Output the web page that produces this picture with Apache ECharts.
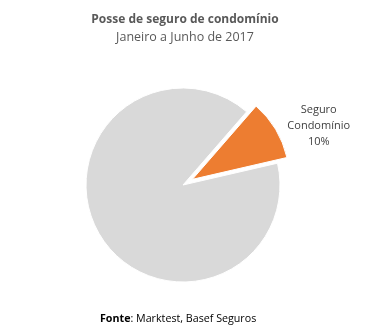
<!DOCTYPE html>
<html><head><meta charset="utf-8">
<script src="https://cdn.jsdelivr.net/npm/echarts@6/dist/echarts.min.js"></script>
<style>html,body{margin:0;padding:0;background:#fff}#c{width:370px;height:332px}</style>
</head><body><div id="c"></div>
<script>
const categories = ['Seguro\nCondomínio', 'Outros'];
const values = [10, 90];
const colors = ['#ED7D31', '#D9D9D9'];

const chart = echarts.init(document.getElementById('c'));
chart.setOption({
  backgroundColor: '#ffffff',
  animation: false,
  title: [{
    text: 'Posse de seguro de condomínio',
    subtext: 'Janeiro a Junho de 2017',
    left: 'center', top: 9, itemGap: 5,
    textStyle: {fontFamily: 'Open Sans', fontSize: 12, fontWeight: 'bold', color: '#595959'},
    subtextStyle: {fontFamily: 'Open Sans', fontSize: 12.5, color: '#595959'}
  }, {
    text: '{b|Fonte}: Marktest, Basef Seguros',
    left: 95, top: 308,
    textStyle: {fontFamily: 'Open Sans', fontSize: 10.7, fontWeight: 'normal', color: '#000',
      rich: {b: {fontFamily: 'Open Sans', fontSize: 10.7, fontWeight: 'bold', color: '#000'}}}
  }],
  series: [{
    type: 'pie',
    center: [183, 185],
    radius: 97,
    startAngle: 49,
    selectedMode: 'single',
    selectedOffset: 11,
    itemStyle: {borderColor: '#fff', borderWidth: 1},
    labelLine: {show: false, length: 6, length2: 0},
    emphasis: {disabled: true},
    data: categories.map((c, i) => ({
      name: c, value: values[i],
      selected: i === 0,
      itemStyle: {color: colors[i]},
      label: {
        show: i === 0, position: 'outside',
        formatter: p => p.name.split('\n').concat([p.percent + '%']).map(s => '{a|' + s + '}').join('\n'),
        rich: {a: {width: 66, align: 'center', fontFamily: 'Open Sans', fontSize: 11, lineHeight: 16, color: '#404040'}}
      }
    }))
  }]
});
</script></body></html>
